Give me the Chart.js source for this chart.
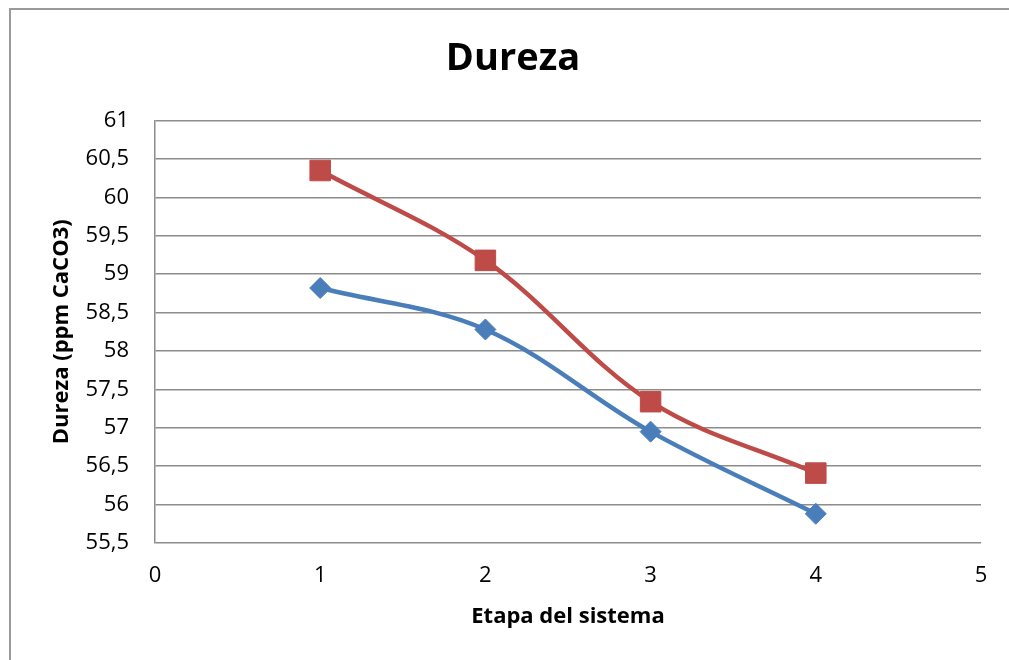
<!DOCTYPE html>
<html>
<head>
<meta charset="utf-8">
<script src="https://cdn.jsdelivr.net/npm/chart.js@4.4.1/dist/chart.umd.min.js"></script>
<style>
  html, body { margin: 0; padding: 0; background: #fff; }
  #frame {
    position: absolute;
    left: 9px;
    top: 8px;
    width: 1010px;
    height: 660px;
    border-left: 2px solid #9a9a9a;
    border-top: 2px solid #9a9a9a;
  }
  #wrap { position: absolute; left: 0; top: 0; width: 1009px; height: 660px; }
</style>
</head>
<body>
<div id="frame"></div>
<div id="wrap"><canvas id="chart-dureza"></canvas></div>
<script>
// Etapas del sistema (eje X)
const etapas = [1, 2, 3, 4];
// Dureza medida en cada etapa (ppm CaCO3)
const durezaSerie1 = [58.82, 58.28, 56.95, 55.88];
const durezaSerie2 = [60.35, 59.18, 57.34, 56.41];

const yTicks = [55.5, 56, 56.5, 57, 57.5, 58, 58.5, 59, 59.5, 60, 60.5, 61];

const gridColor = '#8c8c8c';
const fontFamily = "'Open Sans', 'Liberation Sans', sans-serif";

const toPoints = (values) => etapas.map((x, i) => ({ x: x, y: values[i] }));

const ctx = document.getElementById('chart-dureza').getContext('2d');

new Chart(ctx, {
  type: 'line',
  data: {
    datasets: [
      {
        label: 'Serie1',
        data: toPoints(durezaSerie1),
        borderColor: '#4a7ebb',
        backgroundColor: '#4a7ebb',
        borderWidth: 4.5,
        pointStyle: 'rectRot',
        pointRadius: 10.5,
        pointBorderWidth: 1,
        pointBackgroundColor: '#4a7ebb',
        pointBorderColor: '#4a7ebb',
        tension: 0.35,
        fill: false,
      },
      {
        label: 'Serie2',
        data: toPoints(durezaSerie2),
        borderColor: '#be4b48',
        backgroundColor: '#be4b48',
        borderWidth: 4.5,
        pointStyle: 'rect',
        pointRadius: 14.5,
        pointBorderWidth: 1,
        pointBackgroundColor: '#be4b48',
        pointBorderColor: '#be4b48',
        tension: 0.35,
        fill: false,
      },
    ],
  },
  options: {
    responsive: true,
    maintainAspectRatio: false,
    animation: false,
    layout: {
      padding: { left: 45, right: 28, top: 0, bottom: 0 },
    },
    plugins: {
      legend: { display: false },
      tooltip: { enabled: false },
      title: {
        display: true,
        text: 'Dureza',
        color: '#000',
        font: { family: fontFamily, size: 38, weight: 'bold', lineHeight: 1.2 },
        padding: { top: 36, bottom: 39 },
      },
    },
    scales: {
      x: {
        type: 'linear',
        min: 0,
        max: 5,
        afterFit: (scale) => { scale.height = 117; },
        ticks: {
          stepSize: 1,
          padding: 20,
          color: '#000',
          font: { family: fontFamily, size: 22 },
        },
        grid: { display: false, drawTicks: false },
        border: { display: false },
        title: {
          display: true,
          text: 'Etapa del sistema',
          color: '#000',
          font: { family: fontFamily, size: 22, weight: 'bold', lineHeight: 1.2 },
          padding: { top: 0, bottom: 30 },
        },
      },
      y: {
        type: 'linear',
        min: 55.5,
        max: 61,
        afterFit: (scale) => { scale.width = 110; },
        afterBuildTicks: (scale) => {
          scale.ticks = yTicks.map((v) => ({ value: v }));
        },
        ticks: {
          padding: 26,
          color: '#000',
          font: { family: fontFamily, size: 22 },
          callback: (value) => String(value).replace('.', ','),
        },
        grid: {
          color: gridColor,
          lineWidth: 1.5,
          drawTicks: false,
        },
        border: { display: true, color: gridColor, width: 1.5 },
        title: {
          display: true,
          text: 'Dureza (ppm CaCO3)',
          color: '#000',
          font: { family: fontFamily, size: 22, weight: 'bold', lineHeight: 1.2 },
          padding: { top: 4, bottom: 0 },
        },
      },
    },
  },
});
</script>
</body>
</html>
